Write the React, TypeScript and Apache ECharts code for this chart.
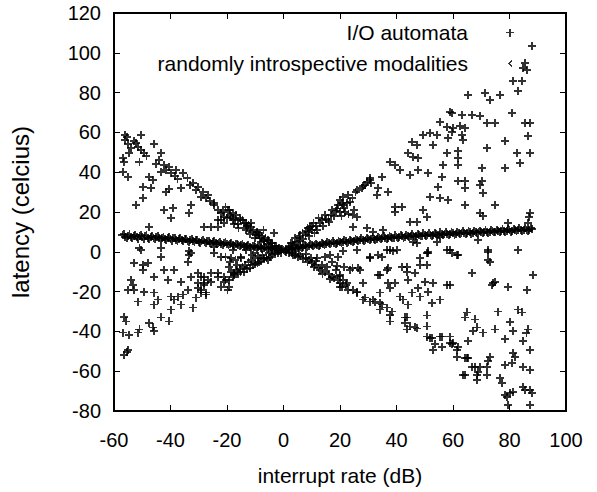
import React, { useEffect, useRef } from "react";
import * as echarts from "echarts";

const xTicks = { min: -60, max: 100, interval: 20 };
const yTicks = { min: -80, max: 120, interval: 20 };

const seriesNames = ["I/O automata", "randomly introspective modalities"];

// I/O automata: scattered X-shaped cloud
const ioLeftUpper: number[][] = [
  [-56.1, 58.7], [-56, 56], [-55, 54], [-54, 52], [-55.5, 57.5], [-50.5, 58.7], [-52.2, 54.6], [-50.5, 51], [-49.4, 49.6], [-51.5, 52.5],
  [-45.9, 54.2], [-56.8, 47], [-56.5, 45], [-51, 45], [-54.7, 49.6], [-43.4, 49.6], [-56.8, 40], [-55, 37.5], [-42.4, 43.6], [-40.6, 42.6],
  [-38.1, 41], [-35.7, 39.6], [-43.4, 40], [-39.9, 39.6], [-41.7, 41], [-47.7, 37.5], [-46.2, 36], [-49.8, 32.6], [-47, 32], [-40.6, 31.6],
  [-41.7, 30], [-36.4, 32], [-32.1, 34.6], [-30.4, 32.6], [-28.6, 30], [-26.8, 28.5], [-49.8, 27], [-52.2, 23.5], [-42.4, 21], [-39.2, 22],
  [-39.9, 17], [-32.8, 23.5], [-33.5, 19.5], [-24.7, 23.5], [-23.3, 21], [-22.2, 16], [-19.8, 21], [-21.2, 17.5], [-28.2, 12.5], [-25.8, 12.5],
  [-23.3, 12.5], [-21.2, 14.5], [-47.7, 12.5], [-20.5, 22.5], [-19.4, 21], [-18, 19.5], [-16.9, 18.5], [-15.5, 17], [-14.5, 16], [-13.4, 14.5],
  [-12.4, 13.5], [-11.5, 12.5], [-10.6, 11], [-9.5, 10], [-8.8, 8.4], [-7.5, 8], [-6.4, 7], [-5, 5.5], [-3.9, 4.4], [-2.5, 3],
  [-1.5, 2], [-18, 16], [-15.9, 12], [-13.4, 11], [-16, 14], [-12, 9], [-10, 7], [-8, 5], [-6, 4], [-4, 2.5],
  [-2, 1.2], [-29.3, 27.5], [-24.7, 24.5], [-22.2, 19.5], [-18.7, 17.5], [-15.2, 16], [-11.6, 14.5], [-7.1, 11], [-3.5, 9.4], [-23.3, 16],
  [-51, 2], [-43.4, 2], [-33.5, 0.5], [-24.7, 2.5], [-50.5, 1], [-18, 1], [-13.4, 1], [-34, 37], [-31, 31], [-27.5, 27],
  [-26, 25.5], [-37.5, 36.5], [-44, 46], [-48.5, 48], [-53, 55.5], [-45, 44], [-38.5, 38], [-33, 33.5],
  [-1, 1.5], [-3, 2.8], [-4.5, 4.5], [-5.5, 6], [-7, 6], [-8.5, 7], [-9, 9.5], [-11, 10], [-12.8, 12], [-14, 14.5],
  [-17, 16.5], [-19, 18.5], [-20, 17], [-21.5, 20], [-17.5, 14], [-13, 12.8], [-9.8, 8.5], [-6.8, 5.5],
];

const ioLeftLower: number[][] = [
  [-43.4, -2.5], [-33.5, -1.6], [-52.9, -5.6], [-49.8, -6.6], [-48, -5.6], [-49.8, -9], [-42.4, -9], [-38.8, -9], [-45.9, -12.5], [-40.9, -14],
  [-36.4, -15], [-54, -14], [-53.3, -16.5], [-55, -19], [-52.9, -19], [-49.4, -20], [-45.9, -20.5], [-51.5, -25], [-44.5, -24], [-45.9, -26.5],
  [-39.9, -22.5], [-37.4, -22.5], [-35.7, -21.5], [-38.8, -24], [-36.4, -26.5], [-33.9, -19], [-31.1, -23], [-32.1, -28], [-39.9, -29], [-32.8, -12.5],
  [-30.4, -10.5], [-28.2, -12.5], [-25.8, -10.5], [-23.3, -10.5], [-21.2, -12.5], [-30.4, -15.6], [-28.2, -16.5], [-26.8, -14], [-29.3, -19], [-27.5, -20.5],
  [-19.4, -14], [-56.5, -32.6], [-55.8, -35], [-56.8, -40.6], [-54.7, -41.7], [-51, -39], [-51.5, -40.6], [-47.7, -35.7], [-46.2, -38], [-45.9, -40],
  [-43.4, -33], [-40.6, -35], [-56.5, -52], [-55, -49.3], [-55.5, -50.5], [-20.5, -2.5], [-19.4, -7.5], [-19.4, -17.5], [-16.9, -9], [-14.5, -7.5],
  [-12.4, -5], [-9.9, -3], [-7.4, -1.6], [-5.3, -0.6], [-20.5, -14], [-18, -12.5], [-16, -11], [-14, -10], [-12, -8], [-10, -6],
  [-8, -4.5], [-6, -3], [-4, -1.8], [-2, -0.8], [-17, -4], [-15, -3], [-11, -1.5], [-32.8, -0.6], [-33.9, -5], [-24.7, -0.6],
  [-22.2, -2.6], [-18.7, -3], [-15.2, -2.6], [-10.6, -0.6], [-5.6, -4], [-17.6, -10.5], [-15.2, -10], [-9.2, -5.6], [-7.1, -3], [-29.3, -12.5],
  [-28.2, -15.6], [-25.8, -15], [-23.3, -12.5], [-21.2, -15], [-22.2, -17.5], [-19.8, -19], [-30.4, -18], [-29.3, -20.5], [-27.5, -21.5],
  [-1, -0.4], [-3, -1.3], [-4.8, -2.5], [-6.8, -3.5], [-8.8, -5], [-10.8, -6.8], [-12.8, -8.8], [-13.5, -6.5], [-15.5, -8.5], [-17.5, -11.5],
  [-18.5, -10], [-11.5, -4], [-9, -2], [-16.5, -6.5], [-19, -5],
];

const ioRightUpper: number[][] = [
  [2.5, 4.4], [4.2, 7], [5.5, 7.5], [6.7, 9.4], [8.5, 12], [9.5, 12.5], [10.6, 14.5], [12.4, 17], [14.8, 18.5], [15.9, 16],
  [17.3, 21], [19.4, 23.5], [20.8, 24.5], [21.2, 27.5], [3.5, 3.5], [6, 5.5], [9, 8], [12, 11], [14, 13], [16, 15],
  [18, 18], [20, 20], [11, 9.5], [7, 6.5], [21.2, 23.5], [22.9, 28.5], [24.4, 27], [25.5, 30], [27.9, 32], [28.9, 33.6],
  [30.7, 37], [34.9, 37.5], [26, 31], [23.5, 25], [20.1, 26], [21.5, 22], [23, 19], [25, 21], [26, 17.5], [20.5, 18],
  [22.5, 24.5], [21.9, 20], [24.4, 18.5], [29.5, 35], [30.5, 36], [31, 34.5], [28, 33],
  [1, 1.2], [1.8, 2.5], [3, 4.5], [4.8, 5], [5.8, 8.2], [7.8, 8.5], [8, 10.5], [10, 11], [11.5, 13], [13, 14.5],
  [13.5, 16], [15, 16.5], [16.8, 18.5], [18.5, 20.5], [19, 21.8], [10, 13], [8.8, 10],
  [58.9, 70.2], [55.4, 65.2], [57.9, 62.7], [59.7, 60.2], [49.4, 58.7], [51.9, 59.7], [54.4, 58.7], [52.9, 53.6], [58.2, 57.2], [45.5, 55.2],
  [47.3, 53.6], [44.1, 49.6], [45.9, 47.6], [47.7, 47], [57.9, 49.6], [56.5, 43.6], [37.8, 45], [39.5, 43.6], [41.3, 41], [44.8, 38.5],
  [47.7, 41], [51.2, 39.6], [33.5, 32], [37.1, 30], [33.2, 28.5], [56.1, 37.5], [54.7, 32.6], [51.9, 27.5], [55.4, 27], [58.2, 26],
  [39.5, 22.5], [42, 22.5], [39.5, 20], [49.4, 21], [50.8, 17.5], [44.8, 15], [47.3, 15], [24.7, 12.5], [29.6, 12], [31.8, 10],
  [35.3, 11], [55.4, 7.5], [47.3, 4.4], [54.4, 5], [26.1, 1], [36.7, 1], [38.8, 0.3], [51.2, 0.2], [57.9, 1], [21.2, 0.5],
  [45.9, 5], [37.8, 1], [40.2, 1], [58.9, 1],
  [87.9, 103.4], [85.4, 95], [84.7, 92.4], [86.1, 91.5], [81.2, 85.8], [84.4, 85.8], [83, 80.8], [65.3, 78.8], [71.3, 79.8], [73.1, 76.3],
  [76.6, 78.8], [59.7, 69.8], [63.2, 68.8], [66.7, 68.8], [69.5, 68.3], [72, 64.7], [74.8, 64.7], [80.8, 69.8], [85.4, 64.7], [87.2, 64.7],
  [60, 62.2], [62.5, 63.2], [64.2, 62.2], [63.2, 58.7], [63.5, 56], [86.5, 58.2], [72, 52.2], [78.4, 55.7], [82.6, 49.6], [87.2, 49.6],
  [83.7, 44.6], [61.8, 50.6], [61.8, 47], [61.8, 43.6], [70.2, 42], [78.4, 42], [61.8, 35.6], [64.2, 35.6], [64.2, 32], [70.2, 35.6],
  [69.5, 33.6], [70.6, 29.6], [64.2, 23.5], [74.8, 23.5], [69.5, 19.5], [70.6, 18], [87.2, 19.5], [87, 17.5], [79.4, 14.5], [86.5, 14.5],
  [68.8, 6], [72.4, 1], [83, 1],
];

const ioRightLower: number[][] = [
  [4.2, -1.6], [7.8, -3], [10.2, -5.6], [12.4, -8], [14.8, -10], [17.3, -12.5], [19.4, -14], [20.8, -17.5], [14.8, -2.5], [17.3, -5],
  [19, -7], [3, -0.8], [6, -2], [9, -4], [11, -6.5], [13, -9], [16, -11], [18, -13], [20, -15.6], [8, -1],
  [12, -3], [16.6, -1.6], [19.4, -2.6], [23.6, -9], [27.2, -9], [30.7, -3], [33.5, -1.6], [33.5, -11.5], [37.1, -8], [43.8, -7.5],
  [46.6, -10.5], [50.8, -0.6], [61.4, -1.6], [72.4, -4], [66.7, -10.5], [74.1, -15.6], [88.2, -11.5], [20.1, -17.5], [22.9, -19], [26.1, -20],
  [28.9, -23], [31.8, -24], [34.2, -25.6], [36.7, -28], [37.8, -31.6], [43.1, -33], [43.8, -39], [47.3, -38.5], [51.9, -43.3], [56.1, -42.6],
  [60, -46], [61.4, -49.3], [64.9, -53.3], [67.8, -58], [72, -58], [68.5, -62], [63.5, -62], [79, -73], [87.2, -69.5], [87.2, -77],
  [30.7, -2.5], [34.9, -2.5], [48.4, -3], [51.2, -0.6], [48.4, -6.6], [50.8, -6.6], [24.4, -8], [26.5, -8], [34.2, -11.5], [36.7, -9],
  [42, -7.5], [43.8, -10], [44.1, -14], [20.1, -11.5], [21.2, -14], [22.6, -15.6], [24.7, -19], [26.1, -20.5], [28.2, -15.6], [37.1, -15.6],
  [39.5, -15.6], [37.8, -18], [47.7, -18], [50.1, -15], [52.9, -15.6], [57.9, -16.5], [34.2, -20.5], [45.5, -20.5], [48.4, -22.5], [51.2, -20],
  [28.2, -24], [30.7, -25], [32.5, -25], [34.9, -26.5], [41.3, -22.5], [42.4, -24], [44.1, -26.5], [52.6, -25.6], [55.4, -24], [34.2, -29],
  [38.5, -30], [37.8, -35], [43.8, -33], [43.1, -35.7], [44.8, -37.5], [46.6, -38], [50.8, -32], [50.8, -37.5], [50.8, -42.6], [52.6, -43.3],
  [55.4, -42.6], [53.6, -46.5], [58.9, -42.6], [59.7, -46.5], [52.9, -49.3], [56, -48],
  [1, -0.3], [2, -0.8], [3.5, -1.8], [5, -2.5], [5.5, -1], [6.8, -3.8], [8.5, -5], [9.8, -3.2], [10.8, -7.5], [11.5, -4.5],
  [13.5, -6.5], [13.8, -11], [15.5, -7.5], [16.5, -13.5], [18.5, -9], [19.8, -12], [21.5, -7.5], [22, -16.5],
  [59.7, -0.6], [61.8, -1.6], [72.4, 0], [73.1, -5], [74.8, -15], [73.8, -16.5], [79.4, -17.5], [86.1, -19], [58.9, -16.5], [75.9, -30],
  [83, -29], [84.4, -30.5], [64.9, -30.5], [64.2, -33], [67.8, -34], [80.1, -35.2], [81.2, -40], [68.5, -38], [67.1, -40], [70.6, -40.6],
  [74.8, -39], [86.5, -39], [86, -41], [78.4, -44], [84.7, -45], [87.2, -49.3], [65.3, -45], [58.9, -46], [61.8, -48], [61.4, -52.8],
  [64.2, -53.3], [65.3, -53.3], [73.1, -52.8], [72.5, -55], [81.2, -51], [81.9, -52.8], [66.7, -58], [69.5, -58], [68.8, -60.3], [78.4, -57],
  [80.8, -56], [84.7, -58], [87.2, -59.3], [64.2, -62], [68.5, -64.5], [72, -62], [76.6, -63.5], [77.3, -66], [84.7, -68], [85.4, -69.5],
  [87.9, -71], [78.4, -72], [80.1, -71], [81.2, -70.4], [79.4, -77],
];

// randomly introspective modalities: thick V-shaped band
const modLeft: number[][] = [
  [-57, 8.3], [-56, 7.6], [-55, 8.1], [-54, 7.5], [-53, 8.0], [-52, 7.3], [-51, 7.8], [-50, 7.2], [-49, 7.7], [-48, 7.0],
  [-47, 7.5], [-46, 6.9], [-45, 7.3], [-44, 6.7], [-43, 7.1], [-42, 6.5], [-41, 6.9], [-40, 6.3], [-39, 6.7], [-38, 6.1],
  [-37, 6.4], [-36, 5.9], [-35, 6.2], [-34, 5.6], [-33, 6.0], [-32, 5.4], [-31, 5.7], [-30, 5.1], [-29, 5.5], [-28, 4.9],
  [-27, 5.2], [-26, 4.6], [-25, 4.9], [-24, 4.3], [-23, 4.6], [-22, 4.0], [-21, 4.3], [-20, 3.8], [-19, 4.0], [-18, 3.5],
  [-17, 3.7], [-16, 3.2], [-15, 3.4], [-14, 2.9], [-13, 3.1], [-12, 2.6], [-11, 2.8], [-10, 2.3], [-9, 2.5], [-8, 2.0],
  [-7, 2.1], [-6, 1.7], [-5, 1.8], [-4, 1.3], [-3, 1.4], [-2, 1.0], [-1, 1.1], [0, 0.7],
];

const modLeftB: number[][] = [
  [-56.5, 9.0], [-55.5, 6.9], [-54.5, 8.7], [-53.5, 6.8], [-52.5, 8.5], [-51.5, 6.6], [-50.5, 8.4], [-49.5, 6.5], [-48.5, 8.2], [-47.5, 6.3],
  [-46.5, 8.0], [-45.5, 6.2], [-44.5, 7.8], [-43.5, 6.0], [-42.5, 7.6], [-41.5, 5.8], [-40.5, 7.3], [-39.5, 5.6], [-38.5, 7.1], [-37.5, 5.4],
  [-36.5, 6.9], [-35.5, 5.2], [-34.5, 6.6], [-33.5, 5.0], [-32.5, 6.4], [-31.5, 4.8], [-30.5, 6.1], [-29.5, 4.6], [-28.5, 5.9], [-27.5, 4.3],
  [-26.5, 5.6], [-25.5, 4.1], [-24.5, 5.3], [-23.5, 3.9], [-22.5, 5.0], [-21.5, 3.6], [-20.5, 4.7], [-19.5, 3.3], [-18.5, 4.4], [-17.5, 3.0],
  [-16.5, 4.1], [-15.5, 2.7], [-14.5, 3.8], [-13.5, 2.4], [-12.5, 3.5], [-11.5, 2.1], [-10.5, 3.1], [-9.5, 1.8], [-8.5, 2.8], [-7.5, 1.5],
  [-6.5, 2.4], [-5.5, 1.2], [-4.5, 2.0], [-3.5, 0.9], [-2.5, 1.6], [-1.5, 0.6], [-0.5, 1.2],
];

const modRight: number[][] = [
  [1, 0.9], [2, 1.4], [3, 1.3], [4, 1.9], [5, 1.9], [6, 2.4], [7, 2.3], [8, 2.8], [9, 2.8], [10, 3.2],
  [11, 3.2], [12, 3.6], [13, 3.5], [14, 3.9], [15, 3.9], [16, 4.3], [17, 4.2], [18, 4.5], [19, 4.5], [20, 4.9],
  [21, 4.8], [22, 5.2], [23, 5.1], [24, 5.5], [25, 5.4], [26, 5.8], [27, 5.7], [28, 6.1], [29, 6.0], [30, 6.4],
  [31, 6.2], [32, 6.6], [33, 6.5], [34, 6.9], [35, 6.7], [36, 7.1], [37, 6.9], [38, 7.3], [39, 7.1], [40, 7.5],
  [41, 7.3], [42, 7.7], [43, 7.5], [44, 7.9], [45, 7.7], [46, 8.1], [47, 7.9], [48, 8.3], [49, 8.1], [50, 8.4],
  [51, 8.3], [52, 8.6], [53, 8.4], [54, 8.8], [55, 8.6], [56, 8.9], [57, 8.8], [58, 9.1], [59, 8.9], [60, 9.3],
  [61, 9.1], [62, 9.4], [63, 9.3], [64, 9.6], [65, 9.4], [66, 9.7], [67, 9.6], [68, 9.9], [69, 9.7], [70, 10.0],
  [71, 9.9], [72, 10.2], [73, 10.0], [74, 10.3], [75, 10.2], [76, 10.5], [77, 10.3], [78, 10.6], [79, 10.5], [80, 10.8],
  [81, 10.6], [82, 10.9], [83, 10.8], [84, 11.1], [85, 10.9], [86, 11.2], [87, 11.0], [88, 11.3],
];

const modRightB: number[][] = [
  [0.5, 0.5], [1.5, 1.6], [2.5, 0.9], [3.5, 2.2], [4.5, 1.4], [5.5, 2.8], [6.5, 1.9], [7.5, 3.3], [8.5, 2.3], [9.5, 3.7],
  [10.5, 2.7], [11.5, 4.1], [12.5, 3.0], [13.5, 4.5], [14.5, 3.4], [15.5, 4.9], [16.5, 3.7], [17.5, 5.2], [18.5, 4.0], [19.5, 5.5],
  [20.5, 4.3], [21.5, 5.8], [22.5, 4.6], [23.5, 6.1], [24.5, 4.9], [25.5, 6.4], [26.5, 5.2], [27.5, 6.7], [28.5, 5.5], [29.5, 7.0],
  [30.5, 5.7], [31.5, 7.2], [32.5, 6.0], [33.5, 7.5], [34.5, 6.2], [35.5, 7.7], [36.5, 6.5], [37.5, 7.9], [38.5, 6.7], [39.5, 8.2],
  [40.5, 6.9], [41.5, 8.4], [42.5, 7.1], [43.5, 8.6], [44.5, 7.3], [45.5, 8.8], [46.5, 7.5], [47.5, 9.0], [48.5, 7.7], [49.5, 9.2],
  [50.5, 7.9], [51.5, 9.3], [52.5, 8.0], [53.5, 9.5], [54.5, 8.2], [55.5, 9.7], [56.5, 8.3], [57.5, 9.8], [58.5, 8.5], [59.5, 10.0],
  [60.5, 8.6], [61.5, 10.1], [62.5, 8.8], [63.5, 10.3], [64.5, 8.9], [65.5, 10.4], [66.5, 9.1], [67.5, 10.6], [68.5, 9.2], [69.5, 10.7],
  [70.5, 9.4], [71.5, 10.9], [72.5, 9.5], [73.5, 11.0], [74.5, 9.7], [75.5, 11.2], [76.5, 9.8], [77.5, 11.3], [78.5, 10.0], [79.5, 11.5],
  [80.5, 10.1], [81.5, 11.6], [82.5, 10.3], [83.5, 11.8], [84.5, 10.4], [85.5, 11.9], [86.5, 10.6], [87.5, 12.0],
];

const PLUS = "path://M3.1,0H4.9V3.1H8V4.9H4.9V8H3.1V4.9H0V3.1H3.1Z";
const TINY = "path://M0,4L3,1.5L3,2.6L1.4,4L3,5.4L3,6.5Z";
const FONT = "Liberation Sans";

export default function App() {
  const ref = useRef<HTMLDivElement>(null);
  useEffect(() => {
    if (!ref.current) return;
    const chart = echarts.init(ref.current, undefined, { renderer: "svg" });
    const axisLine = { show: true, onZero: false, lineStyle: { color: "#000", width: 1.5 } };
    const axisTick = { show: true, inside: true, length: 6, lineStyle: { color: "#000", width: 1.2 } };
    const label = { color: "#000", fontSize: 20, fontFamily: FONT };
    const markStyle = { color: "#000" };
    chart.setOption({
      animation: false,
      backgroundColor: "#fff",
      grid: { left: 113, right: 31, top: 13, bottom: 81 },
      legend: {
        orient: "vertical",
        right: 78,
        top: 17,
        align: "right",
        itemWidth: 8,
        itemHeight: 8,
        itemGap: 10,
        itemStyle: { borderWidth: 0 },
        textStyle: { color: "#000", fontSize: 21, fontFamily: FONT, padding: [0, 33, 0, 0] },
        data: [
          { name: seriesNames[0], icon: PLUS },
          { name: seriesNames[1], icon: TINY },
        ],
      },
      xAxis: [
        {
          type: "value", position: "bottom", ...xTicks,
          axisLine, axisTick, splitLine: { show: false },
          axisLabel: { ...label, margin: 19 },
          name: "interrupt rate (dB)", nameLocation: "middle", nameGap: 54,
          nameTextStyle: { color: "#000", fontSize: 21, fontFamily: FONT },
        },
        {
          type: "value", position: "top", ...xTicks,
          axisLine, axisTick, splitLine: { show: false }, axisLabel: { show: false },
        },
      ],
      yAxis: [
        {
          type: "value", position: "left", ...yTicks,
          axisLine, axisTick, splitLine: { show: false },
          axisLabel: { ...label, margin: 13 },
          name: "latency (celcius)", nameLocation: "middle", nameGap: 82,
          nameTextStyle: { color: "#000", fontSize: 24, fontFamily: FONT },
        },
        {
          type: "value", position: "right", ...yTicks,
          axisLine, axisTick, splitLine: { show: false }, axisLabel: { show: false },
        },
      ],
      series: [
        {
          name: seriesNames[0],
          type: "scatter",
          symbol: PLUS,
          symbolSize: 8,
          itemStyle: markStyle,
          data: [...ioLeftUpper, ...ioLeftLower, ...ioRightUpper, ...ioRightLower],
        },
        {
          name: seriesNames[1],
          type: "scatter",
          symbol: PLUS,
          symbolSize: 8,
          itemStyle: markStyle,
          data: [...modLeft, ...modLeftB, ...modRight, ...modRightB],
        },
      ],
    });
    return () => chart.dispose();
  }, []);
  return (
    <>
      <style>{"#plot svg path { shape-rendering: crispEdges; }"}</style>
      <div id="plot" ref={ref} style={{ width: 597, height: 492, position: "absolute", left: 0, top: 0 }} />
    </>
  );
}
